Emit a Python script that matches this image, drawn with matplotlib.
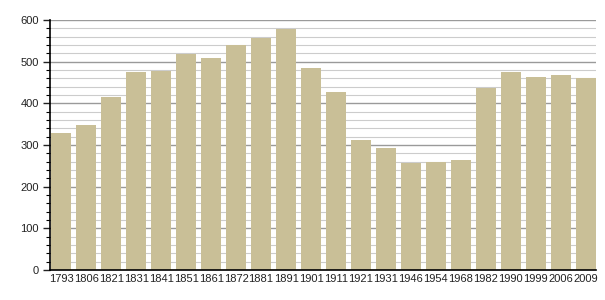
import matplotlib.pyplot as plt
from matplotlib.ticker import MultipleLocator

plt.rcParams['font.family'] = ['Liberation Sans', 'DejaVu Sans']

years = ["1793", "1806", "1821", "1831", "1841", "1851", "1861", "1872", "1881", "1891", "1901",
         "1911", "1921", "1931", "1946", "1954", "1968", "1982", "1990", "1999", "2006", "2009"]
population = [330, 348, 416, 476, 478, 518, 508, 540, 558, 578, 485,
              427, 312, 294, 258, 259, 264, 438, 476, 463, 468, 460]

fig = plt.figure(figsize=(6.05, 3.0), dpi=100)
ax = fig.add_axes([50 / 605, 30 / 300, 546 / 605, 250 / 300])

x = range(len(years))
ax.bar(x, population, width=0.82, color="#c9bf97", zorder=2)

ax.set_ylim(0, 600)
ax.set_xlim(-0.45, len(years) - 1 + 0.41)
ax.yaxis.set_major_locator(MultipleLocator(100))
ax.yaxis.set_minor_locator(MultipleLocator(20))
ax.grid(axis="y", which="major", color="#9a9a9a", linewidth=1.0, zorder=0)
ax.grid(axis="y", which="minor", color="#cccccc", linewidth=0.8, zorder=0)
ax.set_axisbelow(True)

ax.set_xticks(list(x))
ax.set_xticklabels(years)
ax.tick_params(axis="x", length=0, pad=3, labelsize=8, colors="#222222")
ax.tick_params(axis="y", which="major", length=5, width=1, pad=3, labelsize=8, colors="#222222")
ax.tick_params(axis="y", which="minor", length=3, width=0.8)

for side in ["top", "right"]:
    ax.spines[side].set_visible(False)
ax.spines["left"].set_color("black")
ax.spines["bottom"].set_color("black")
ax.spines["left"].set_linewidth(1.2)
ax.spines["bottom"].set_linewidth(1.2)

fig.savefig("out.png", dpi=100)
